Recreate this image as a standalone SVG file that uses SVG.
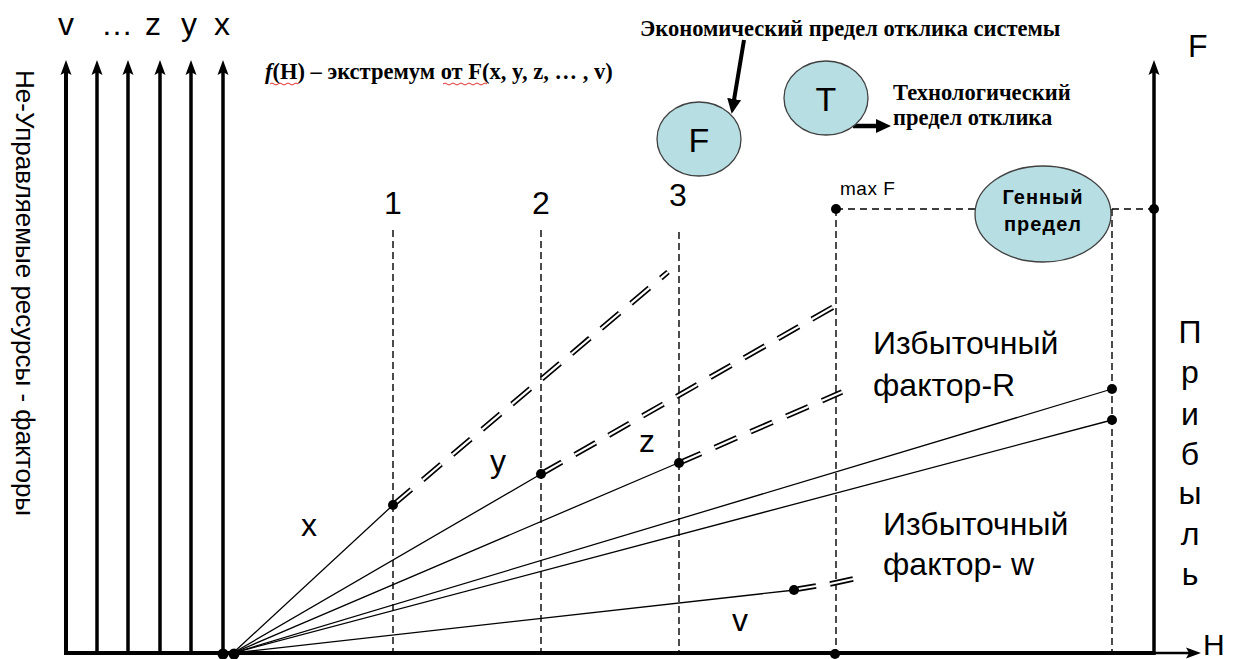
<svg xmlns="http://www.w3.org/2000/svg" width="1235" height="659" viewBox="0 0 1235 659">
<defs>
<marker id="ah" markerUnits="userSpaceOnUse" markerWidth="16" markerHeight="14" viewBox="0 0 16 14" refX="5" refY="7" orient="auto">
<path d="M0,1.5 L15,7 L0,12.5 L3,7 z" fill="#000"/>
</marker>
<marker id="ah2" markerUnits="userSpaceOnUse" markerWidth="16" markerHeight="16" viewBox="0 0 16 16" refX="4" refY="8" orient="auto">
<path d="M0,1 L15,8 L0,15 z" fill="#000"/>
</marker>
</defs>
<style>
.axis{stroke:#000;stroke-width:3.5;fill:none}
.thin{stroke:#000;stroke-width:1.3;fill:none}
.vd{stroke:#000;stroke-width:1.4;stroke-dasharray:7 4;fill:none}
.dd{stroke:#000;stroke-width:5.5;stroke-dasharray:24 15;fill:none}
.ddw{stroke:#fff;stroke-width:2.2;stroke-dasharray:24 15;fill:none}
.dot{fill:#000}
.lbl{font-family:"Liberation Sans",Arial,sans-serif;font-size:32px;fill:#000}
.ser{font-family:"Liberation Serif","Times New Roman",serif;font-weight:bold;font-size:22.5px;fill:#000}
.ell{fill:#b7dee3;stroke:#404040;stroke-width:1.3}
.wave{stroke:#e03030;stroke-width:1;fill:none}
</style>

<g id="connectors">
<path class="axis" d="M66,70 L66,653 L1154,653" style="stroke-width:4"/>
<line x1="1154" y1="653" x2="1191" y2="653" stroke="#000" stroke-width="2.5" marker-end="url(#ah)"/>
<line class="axis" x1="66" y1="655" x2="66" y2="70" marker-end="url(#ah)"/>
<line class="axis" x1="97" y1="655" x2="97" y2="70" marker-end="url(#ah)"/>
<line class="axis" x1="128" y1="655" x2="128" y2="70" marker-end="url(#ah)"/>
<line class="axis" x1="160" y1="655" x2="160" y2="70" marker-end="url(#ah)"/>
<line class="axis" x1="191" y1="655" x2="191" y2="70" marker-end="url(#ah)"/>
<line class="axis" x1="223" y1="655" x2="223" y2="70" marker-end="url(#ah)"/>
<line class="axis" x1="1154" y1="655" x2="1154" y2="70" marker-end="url(#ah)"/>
<line class="vd" x1="393" y1="230" x2="393" y2="653"/>
<line class="vd" x1="541" y1="230" x2="541" y2="653"/>
<line class="vd" x1="679" y1="232" x2="679" y2="653"/>
<line class="vd" x1="836" y1="209" x2="836" y2="653"/>
<line class="vd" x1="1112" y1="209" x2="1112" y2="653"/>
<line class="vd" x1="836" y1="209" x2="1154" y2="209" style="stroke-dasharray:7 5"/>
<line class="thin" x1="233" y1="653" x2="393" y2="505"/>
<line class="thin" x1="233" y1="653" x2="541" y2="474"/>
<line class="thin" x1="233" y1="653" x2="678" y2="463"/>
<line class="thin" x1="233" y1="653" x2="1112" y2="389"/>
<line class="thin" x1="233" y1="653" x2="1112" y2="420"/>
<line class="thin" x1="233" y1="653" x2="795" y2="590"/>
<path class="dd" d="M393,505 L668,272 M541,474 L835,306 M679,463 L842,392 M798,589 L816,586 M830,584 L853,579"/>
<path class="ddw" d="M393,505 L668,272 M541,474 L835,306 M679,463 L842,392 M798,589 L816,586 M830,584 L853,579"/>
<line x1="744" y1="40" x2="733.5" y2="103" stroke="#000" stroke-width="4" marker-end="url(#ah2)"/>
<line x1="853" y1="126" x2="880" y2="126" stroke="#000" stroke-width="4.5" marker-end="url(#ah2)"/>
</g>

<g id="dots">
<circle class="dot" cx="223" cy="654" r="5.5"/>
<circle class="dot" cx="234" cy="654" r="5.5"/>
<circle class="dot" cx="393" cy="505" r="5"/>
<circle class="dot" cx="541" cy="474" r="5"/>
<circle class="dot" cx="679" cy="463" r="5"/>
<circle class="dot" cx="794" cy="590" r="5"/>
<circle class="dot" cx="1112" cy="389" r="5"/>
<circle class="dot" cx="1112" cy="420" r="5"/>
<circle class="dot" cx="836" cy="209" r="5"/>
<circle class="dot" cx="1154" cy="209" r="5"/>
<circle class="dot" cx="835" cy="654" r="5"/>
</g>

<g id="node-F">
<ellipse class="ell" cx="699" cy="139" rx="42" ry="37"/>
<text class="lbl" x="699" y="152" style="font-size:34px" text-anchor="middle">F</text>
</g>
<g id="node-T">
<ellipse class="ell" cx="826" cy="98" rx="42" ry="37"/>
<text class="lbl" x="826" y="111" style="font-size:34px" text-anchor="middle">T</text>
</g>
<g id="node-gene">
<ellipse class="ell" cx="1043" cy="214" rx="68" ry="48"/>
<text class="lbl" style="font-size:20px;font-weight:bold;letter-spacing:1px" text-anchor="middle"><tspan x="1043" y="204">Генный</tspan><tspan x="1043" y="231">предел</tspan></text>
</g>

<g id="labels">
<text class="lbl" x="66" y="35" text-anchor="middle">v</text>
<text class="lbl" x="117" y="35" text-anchor="middle">…</text>
<text class="lbl" x="153" y="35" text-anchor="middle">z</text>
<text class="lbl" x="189" y="35" text-anchor="middle">y</text>
<text class="lbl" x="222" y="35" text-anchor="middle">x</text>
<text class="lbl" x="1188" y="57">F</text>
<text class="lbl" x="1203" y="655" style="font-size:30px">H</text>
<text class="lbl" style="font-size:26px" transform="translate(16,70) rotate(90)">Не-Управляемые ресурсы - факторы</text>
<text class="ser" x="265" y="79"><tspan font-style="italic">f</tspan>(H) – экстремум от F(x, y, z, … , v)</text>
<path class="wave" d="M270,84 q2,-2 4,0 t4,0 t4,0 t4,0 t4,0 t4,0 t4,0"/>
<path class="wave" d="M443,84 q2,-2 4,0 t4,0 t4,0 t4,0 t4,0 t4,0 t4,0 t4,0 t4,0 t4,0 t4,0"/>
<text class="ser" x="640" y="36">Экономический предел отклика системы</text>
<text class="ser"><tspan x="893" y="100">Технологический</tspan><tspan x="893" y="125">предел отклика</tspan></text>
<text class="lbl" x="840" y="195" style="font-size:19px;letter-spacing:0.5px">max F</text>
<text class="lbl" x="393" y="214" text-anchor="middle">1</text>
<text class="lbl" x="541" y="214" text-anchor="middle">2</text>
<text class="lbl" x="678" y="206" text-anchor="middle">3</text>
<text class="lbl" x="309" y="536" text-anchor="middle">x</text>
<text class="lbl" x="498" y="472" text-anchor="middle">y</text>
<text class="lbl" x="647" y="452" text-anchor="middle">z</text>
<text class="lbl" x="740" y="631" text-anchor="middle">v</text>
<text class="lbl"><tspan x="873" y="354">Избыточный</tspan><tspan x="873" y="396">фактор-R</tspan></text>
<text class="lbl"><tspan x="883" y="535">Избыточный</tspan><tspan x="883" y="575">фактор- w</tspan></text>
<text class="lbl" text-anchor="middle"><tspan x="1190" y="343">П</tspan><tspan x="1190" y="383">р</tspan><tspan x="1190" y="425">и</tspan><tspan x="1190" y="465">б</tspan><tspan x="1190" y="504">ы</tspan><tspan x="1190" y="545">л</tspan><tspan x="1190" y="585">ь</tspan></text>
</g>
</svg>
